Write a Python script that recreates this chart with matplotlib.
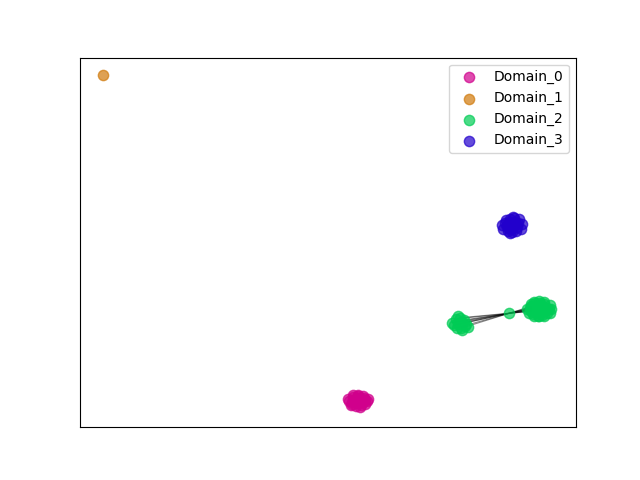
import numpy as np
import matplotlib.pyplot as plt

# embedding coordinates per domain
d0_x = [54.2, 55.0, 56.1, 57.2, 57.9, 54.6, 55.6, 56.6, 57.5, 54.0, 55.3, 56.3, 57.1, 58.0, 55.0, 56.0, 57.0, 55.8, 56.4, 54.8,
        55.5, 56.5, 57.4, 54.9, 56.0]
d0_y = [7.0, 8.2, 8.4, 8.0, 7.2, 6.0, 5.8, 5.9, 6.2, 7.6, 7.0, 7.3, 6.8, 7.6, 8.6, 8.7, 8.5, 6.5, 5.6, 6.4,
        7.6, 7.8, 7.4, 6.9, 6.8]
d1_x = [4.6]
d1_y = [95.3]
d2_x = [90.2, 90.9, 91.8, 92.7, 93.6, 94.3, 90.5, 91.4, 92.3, 93.2, 94.1, 94.5, 90.8, 91.7, 92.6, 93.5, 91.2, 92.1, 93.0, 93.9,
        91.0, 91.0, 91.0, 91.0, 91.0, 92.3, 93.1, 91.9,
        86.5,
        75.0, 75.8, 76.6, 77.4, 75.5, 76.3, 77.1, 76.0, 76.9, 78.2, 77.9, 77.7, 76.2, 77.0,
        95.0, 94.8, 94.8, 92.5, 93.5, 91.5, 92.5, 93.5, 91.5]
d2_y = [32.0, 33.3, 33.7, 33.6, 33.2, 32.1, 30.9, 30.5, 30.2, 30.4, 31.0, 31.9, 32.3, 32.6, 32.8, 32.5, 31.4, 31.2, 31.3, 31.7,
        31.4, 31.7, 32.1, 32.5, 32.7, 32.0, 32.1, 31.9,
        30.8,
        28.3, 29.3, 29.6, 29.0, 27.6, 27.9, 28.4, 26.9, 26.8, 27.2, 28.0, 27.3, 30.0, 26.4,
        32.0, 33.0, 31.0, 34.2, 34.0, 34.0, 30.0, 30.1, 30.2]
d3_x = [85.0, 85.8, 86.7, 87.6, 88.5, 89.2, 85.3, 86.2, 87.1, 88.0, 88.9, 85.6, 86.5, 87.4, 88.3, 86.0, 87.0, 88.1, 87.3, 86.6,
        86.3, 87.2, 88.0, 86.8]
d3_y = [54.8, 56.0, 56.4, 56.6, 56.2, 54.9, 53.6, 53.0, 52.8, 53.1, 53.7, 55.2, 55.4, 55.6, 55.3, 54.2, 54.0, 54.3, 57.0, 52.6,
        55.0, 54.8, 54.9, 53.6]

# edges inside Domain_2: small cluster -> big cluster (indices into d2)
src_idx = [29, 30, 31, 32, 33, 34, 35, 36, 37]
dst_idx = [21, 20, 20, 21, 22, 22, 22, 23, 24]

names = ["Domain_0", "Domain_1", "Domain_2", "Domain_3"]
colors = ["#d0008c", "#d07a0c", "#00cc55", "#2200cc"]

fig, ax = plt.subplots(1, figsize=(6.4, 4.8), dpi=100)

for s, d in zip(src_idx, dst_idx):
    ax.plot((d2_x[s], d2_x[d]), (d2_y[s], d2_y[d]), color='k', linestyle='-', linewidth=0.8, alpha=0.45, zorder=0.5)

xs = [d0_x, d1_x, d2_x, d3_x]
ys = [d0_y, d1_y, d2_y, d3_y]
for x, y, c, n in zip(xs, ys, colors, names):
    ax.scatter(x, y, c=c, s=55, alpha=0.7, label=n)

ax.set_xlim(0, 100)
ax.set_ylim(0, 100)
ax.set_xticks([])
ax.set_yticks([])
ax.legend(loc="upper right")
plt.savefig("out.png")
